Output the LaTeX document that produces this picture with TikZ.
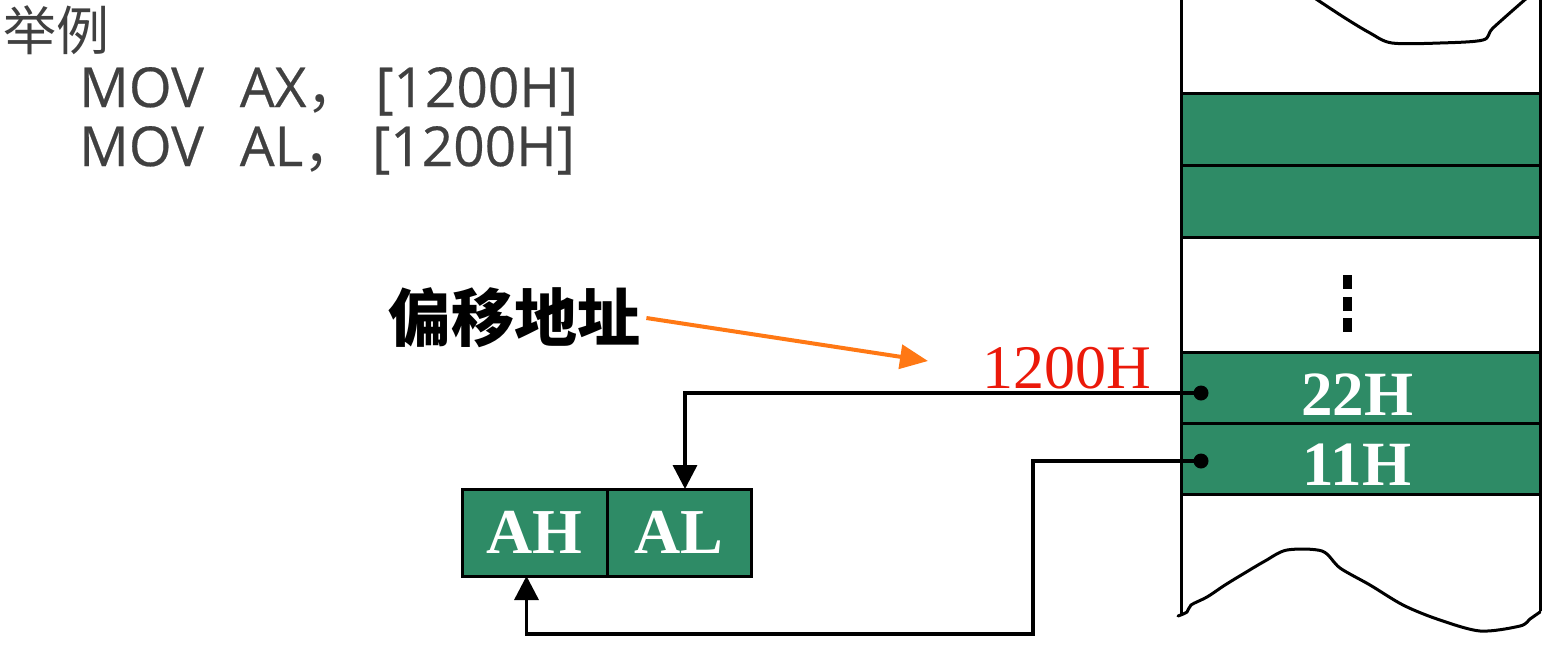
\documentclass[tikz,border=0pt]{standalone}
\usepackage{fontspec}
\setmainfont{Liberation Serif}
\newfontfamily\cjksans{Noto Sans CJK SC}
\newfontfamily\codefont{Open Sans}[FakeBold=0.4]
\usetikzlibrary{arrows.meta}
\definecolor{memgreen}{RGB}{46,139,102}
\definecolor{txtgray}{RGB}{64,64,64}
\definecolor{arrowor}{RGB}{255,120,20}
\definecolor{addrred}{RGB}{235,25,10}
\begin{document}
\begin{tikzpicture}[x=1pt,y=-1pt,
  memcell/.style={draw=black, line width=3pt, fill=memgreen, minimum width=359pt, inner sep=0pt, outer sep=0pt, anchor=north west},
  memblank/.style={memcell, fill=white},
  celltext/.style={text=white, inner sep=0pt, anchor=base, font=\fontsize{63}{63}\selectfont\bfseries},
  reg/.style={draw=black, line width=3pt, fill=memgreen, minimum height=87pt, inner sep=0pt, outer sep=0pt, anchor=north west, text=white, font=\fontsize{64}{64}\selectfont\bfseries},
  junction/.style={circle, fill=black, minimum size=15pt, inner sep=0pt},
  conn/.style={line width=3.5pt, -{Triangle[length=24pt,width=24pt]}},
  ornarrow/.style={line width=4pt, draw=arrowor, -{Triangle[length=28pt,width=24pt]}},
  codetext/.style={text=txtgray, inner sep=0pt, anchor=base west, font=\codefont\fontsize{55}{55}\selectfont},
  wavy/.style={line width=3pt, line join=round, line cap=round}
]
\useasboundingbox (0,0) rectangle (1560,649);
\fill[white] (0,0) rectangle (1560,649);

% memory column
\draw[line width=3pt] (1181,-5) -- (1181,614);
\draw[line width=3pt] (1540,-5) -- (1540,611);
\node[memcell, minimum height=72pt] (m1) at (1181,93) {};
\node[memcell, minimum height=72pt] (m2) at (1181,165) {};
\node[memblank, minimum height=115pt] (mdots) at (1181,237) {};
\node[memcell, minimum height=71pt] (m22) at (1181,352) {};
\node[memcell, minimum height=71pt] (m11) at (1181,423) {};
\node[celltext] (t22) at (1357,415) {22H};
\node[celltext] (t11) at (1357,485) {11H};
\fill (1343,275) rectangle (1352,289);
\fill (1343,297) rectangle (1352,311);
\fill (1343,318) rectangle (1352,332);

% wavy breaks
\draw[wavy] plot[smooth, tension=0.5] coordinates {(1313,-3) (1345,18) (1370,33) (1392,43) (1440,43) (1483,40) (1493,28) (1528,-3)};
\draw[wavy] plot[smooth, tension=0.5] coordinates {(1178,616) (1187,612) (1191,605) (1207,597) (1225,585) (1243,574) (1265,561) (1287,550) (1322,551) (1340,568) (1370,585) (1403,605) (1437,619) (1480,631) (1520,626) (1530,619) (1540,612)};

% registers
\node[reg, minimum width=145pt] (ah) at (462,489) {AH};
\node[reg, minimum width=144pt] (al) at (607,489) {AL};

% junction dots and connectors
\node[junction] (d22) at (1201,393) {};
\node[junction] (d11) at (1201,461) {};
\coordinate (bend) at (1033,634);
\draw[conn] (d22.center) -| ([xshift=6pt]al.north);
\draw[conn] (d11.center) -| (bend) -| ([xshift=-8pt]ah.south);

% address label and offset pointer
\node[anchor=base west, inner sep=0pt, text=addrred, font=\fontsize{62}{62}\selectfont] (addr) at (982,388) {1200H};
\node[anchor=west, inner sep=6pt, font=\cjksans\bfseries\fontsize{63}{63}\selectfont] (offs) at (382,318) {偏移地址};
\coordinate (otip) at (928,361);
\draw[ornarrow] (offs.east) -- (otip);

% code text
\node[anchor=west, inner sep=0pt, text=txtgray, font=\cjksans\fontsize{53}{53}\selectfont] (ex) at (3,30) {举例};
\node[codetext] (l1) at (79,107) {MOV\hspace{36pt}AX{\cjksans ，}\hspace{14pt}[1200H]};
\node[codetext] (l2) at (79,166) {MOV\hspace{36pt}AL{\cjksans ，}\hspace{14pt}[1200H]};
\end{tikzpicture}
\end{document}
